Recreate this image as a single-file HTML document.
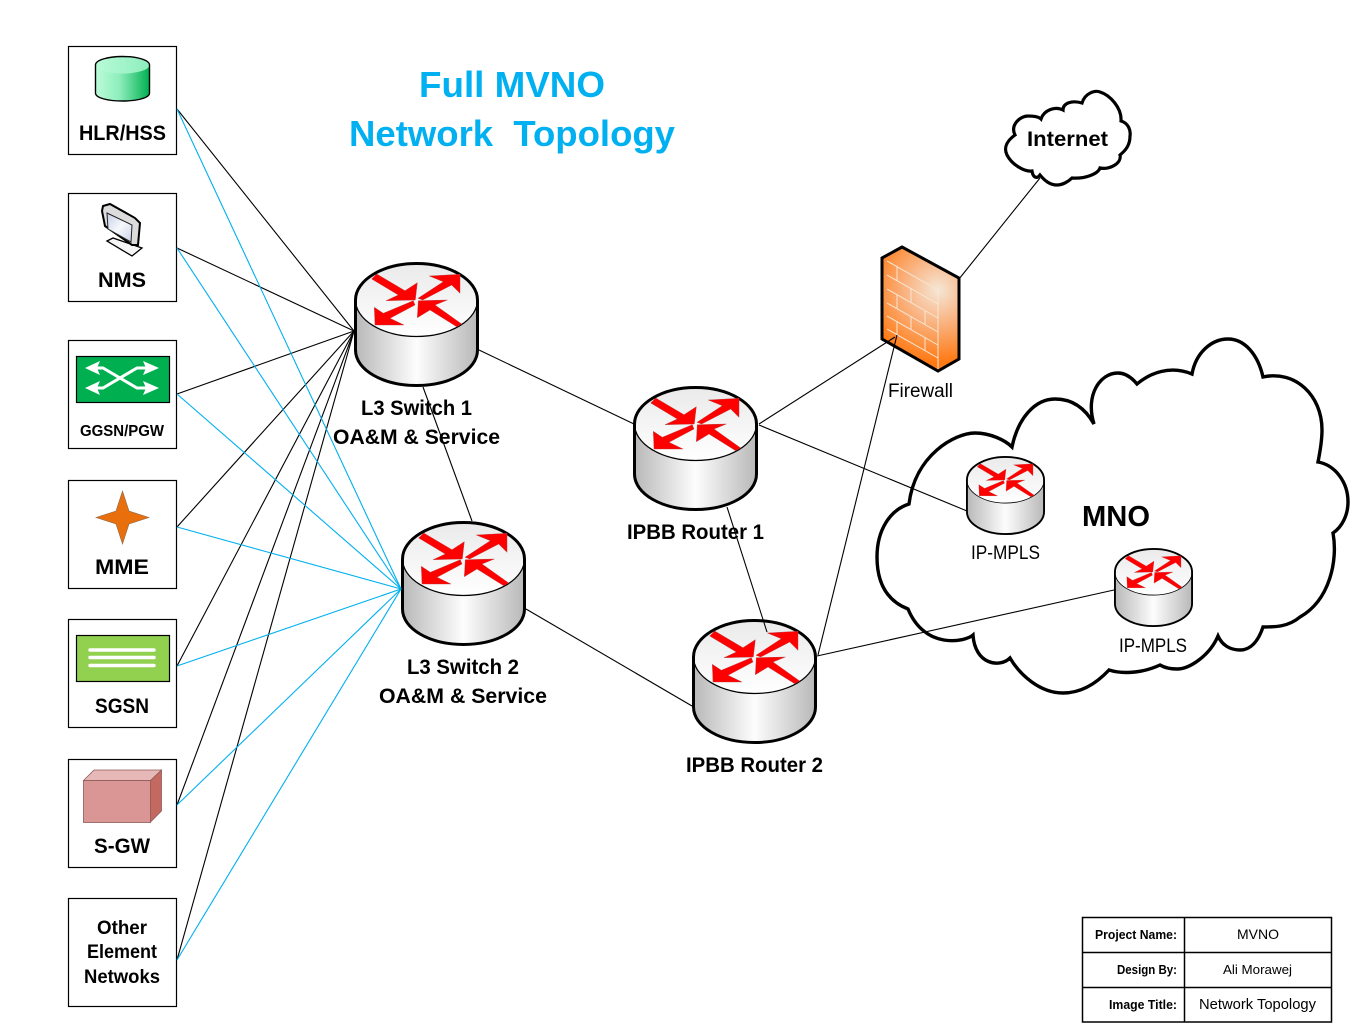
<!DOCTYPE html>
<html>
<head>
<meta charset="utf-8">
<style>
html,body{margin:0;padding:0;background:#fff}
svg{display:block}
text{font-family:"Liberation Sans",sans-serif;fill:#000}
.b{font-weight:700}
.box{fill:#fff;stroke:#000;stroke-width:1.2}
.k{stroke:#000;stroke-width:1.1;fill:none}
.c{stroke:#00b0f0;stroke-width:1.1;fill:none}
</style>
</head>
<body>
<svg width="1357" height="1035" viewBox="0 0 1357 1035" xmlns="http://www.w3.org/2000/svg">
<defs>
<linearGradient id="side" x1="0" x2="1" y1="0" y2="0">
<stop offset="0" stop-color="#b8b8b8"/><stop offset=".5" stop-color="#fdfdfd"/><stop offset="1" stop-color="#b8b8b8"/>
</linearGradient>
<linearGradient id="top" x1="0" x2="0" y1="0" y2="1">
<stop offset="0" stop-color="#eaeaea"/><stop offset="1" stop-color="#ffffff"/>
</linearGradient>
<linearGradient id="hlr" x1="0" x2="1" y1="0" y2="0">
<stop offset="0" stop-color="#bdfcda"/><stop offset=".45" stop-color="#8ceebb"/><stop offset="1" stop-color="#00b050"/>
</linearGradient>
<linearGradient id="hlrT" x1="0" x2="1" y1="0" y2="0">
<stop offset="0" stop-color="#b8fbd8"/><stop offset="1" stop-color="#8eedbc"/>
</linearGradient>
<linearGradient id="scr" x1="0" x2="1" y1="0" y2="1">
<stop offset="0" stop-color="#c4cee4"/><stop offset=".5" stop-color="#f6f8fc"/><stop offset="1" stop-color="#c9d2e6"/>
</linearGradient>
<radialGradient id="fw" gradientUnits="userSpaceOnUse" cx="938" cy="290" r="72">
<stop offset="0" stop-color="#f5e6d5"/><stop offset=".45" stop-color="#f9b483"/><stop offset="1" stop-color="#ff7a14"/>
</radialGradient>
<symbol id="router" viewBox="0 0 125 125">
<path d="M1.500 38 V88 C1.500 108 29 123.500 62.500 123.500 C96 123.500 123.500 108 123.500 88 V38 Z" fill="url(#side)"/>
<ellipse cx="62.500" cy="38" rx="61" ry="36.500" fill="url(#top)" stroke="#000" stroke-width="1.300"/>
<path d="M1.500 38 C1.500 18 29 1.500 62.500 1.500 C96 1.500 123.500 18 123.500 38 V88 C123.500 108 96 123.500 62.500 123.500 C29 123.500 1.500 108 1.500 88 Z" fill="none" stroke="#000" stroke-width="3"/>
<g fill="#f00" stroke="#b04040" stroke-width=".4">
<polygon points="22.700,12 51,28.700 63.300,20.700 61.300,38 32,38.700 44.300,33 17.700,17"/>
<polygon points="64,36.300 89.300,19.700 75.300,14 106,12.300 106,31.300 97.700,23 68.700,38"/>
<polygon points="59.300,38.700 61,43 36,56.300 50,63 21,63 20.300,45.300 29.300,51.300"/>
<polygon points="107.700,62 102.700,64.700 76,48 63.300,55.700 64.300,38.700 93.300,38 81,43"/>
</g>
</symbol>
</defs>

<rect width="1357" height="1035" fill="#fff"/>

<!-- MNO cloud -->
<path fill="#fff" stroke="#000" stroke-width="3.400" stroke-linejoin="miter" d="M909 504 C915 455 955 433 975 433 C990 433 1005 440 1012 447 C1018 418 1035 399 1055 399 C1072 399 1085 408 1094 424 C1085 395 1100 373 1118 373 C1126 373 1132 378 1137 384 C1150 373 1170 365 1192 374 C1196 352 1212 339 1228 339 C1245 339 1258 355 1263 377 C1295 370 1322 395 1322 430 C1322 440 1320 452 1318 462 C1335 465 1348 482 1348 502 C1348 515 1342 527 1333 533 C1338 560 1330 600 1300 617 C1288 627 1275 627 1263 627 C1258 642 1250 650 1240 650 C1230 650 1222 645 1218 636 C1210 655 1190 669 1177 669 C1170 669 1165 668 1160 665 C1145 672 1125 675 1109 670 C1095 685 1080 693 1063 693 C1040 693 1020 675 1010 658 C1000 668 975 665 973 635 C965 642 925 650 908 609 C885 600 877 580 877 557 C877 530 890 510 909 504 Z"/>

<!-- Internet cloud -->
<path fill="#fff" stroke="#000" stroke-width="3.200" d="M1015 135 C1010 125 1020 116 1028 116 C1034 116 1039 117 1041 119 C1044 110 1055 106 1063 110 C1063 103 1072 100 1082 103 C1085 93 1095 90 1100 92 C1110 95 1122 108 1121 121 C1128 123 1131 130 1130 136 C1130 145 1126 150 1120 155 C1122 163 1110 170 1100 168 C1098 174 1085 179 1072 178 C1068 182 1062 185 1057 185 C1050 185 1045 181 1040 175 C1037 179 1033 178 1032 171 C1025 172 1012 165 1007 155 C1003 147 1008 140 1015 135 Z"/>

<!-- Left boxes -->
<rect class="box" x="68.500" y="46.500" width="108" height="108"/>
<rect class="box" x="68.500" y="193.500" width="108" height="108"/>
<rect class="box" x="68.500" y="340.500" width="108" height="108"/>
<rect class="box" x="68.500" y="480.500" width="108" height="108"/>
<rect class="box" x="68.500" y="619.500" width="108" height="108"/>
<rect class="box" x="68.500" y="759.500" width="108" height="108"/>
<rect class="box" x="68.500" y="898.500" width="108" height="108"/>

<!-- HLR icon -->
<path d="M95.500 65 V93 C95.500 98 108 101 122.500 101 C137 101 149.500 98 149.500 93 V65 Z" fill="url(#hlr)"/>
<ellipse cx="122.500" cy="65" rx="27" ry="8.500" fill="url(#hlrT)"/>
<path d="M95.500 65 C95.500 60 108 56.500 122.500 56.500 C137 56.500 149.500 60 149.500 65 V93 C149.500 98 137 101 122.500 101 C108 101 95.500 98 95.500 93 Z" fill="none" stroke="#000" stroke-width="1.400"/>

<!-- NMS icon -->
<polygon points="107,241 113,238 142,248 132,256" fill="#f5f5f5" stroke="#000" stroke-width="1.300"/>
<polygon points="103,206 110,204 135,218 140,223 138,245 132,245 105,226 102,211" fill="#dcdcdc" stroke="#000" stroke-width="2"/>
<polygon points="107,213 132,225 131,242 108,229" fill="url(#scr)" stroke="#222" stroke-width="1"/>

<!-- GGSN icon -->
<rect x="76.500" y="356.500" width="93" height="46" fill="#00b050" stroke="#000" stroke-width="1.200"/>
<g fill="none" stroke="#fff" stroke-width="3">
<path d="M94 368 H103 L137 388 H150"/>
<path d="M94 388 H103 L137 368 H150"/>
</g>
<g fill="#fff">
<polygon points="85,368 100,361 97,368 100,375"/>
<polygon points="85,388 100,381 97,388 100,395"/>
<polygon points="159,368 143,361 146,368 143,375"/>
<polygon points="159,388 143,381 146,388 143,395"/>
</g>

<!-- MME icon -->
<polygon points="122.500,491 129,511 149,517.500 129,524 122.500,544 116,524 96,517.500 116,511" fill="#e96f0c" stroke="#8a6a50" stroke-width=".6"/>

<!-- SGSN icon -->
<rect x="76.500" y="635.500" width="93" height="46" fill="#92d050" stroke="#000" stroke-width="1.200"/>
<g stroke="#fff" stroke-width="3.400" stroke-linecap="round">
<line x1="90" y1="650" x2="154" y2="650"/>
<line x1="90" y1="657.500" x2="154" y2="657.500"/>
<line x1="90" y1="665.500" x2="154" y2="665.500"/>
</g>

<!-- S-GW icon -->
<polygon points="83.500,780.500 94,770 161.500,770 150.500,780.500" fill="#e6b9b8" stroke="#8c5a58" stroke-width=".8"/>
<polygon points="150.500,780.500 161.500,770 161.500,811 150.500,822" fill="#c4695f" stroke="#8c5a58" stroke-width=".8"/>
<rect x="83.500" y="780.500" width="67" height="42" fill="#d99694" stroke="#8c5a58" stroke-width=".8"/>

<!-- Routers -->
<use href="#router" x="354" y="262" width="125" height="125"/>
<use href="#router" x="401" y="521" width="125" height="125"/>
<use href="#router" x="633" y="386" width="125" height="125"/>
<use href="#router" x="692" y="619" width="125" height="125"/>
<use href="#router" x="966" y="456" width="79" height="79"/>
<use href="#router" x="1114" y="548" width="79" height="79"/>

<!-- Firewall -->
<polygon points="882,258 902,247 959,278 959,359 938,371 882,339" fill="url(#fw)"/>
<g stroke="#f8e6d2" stroke-width="1" fill="none">
<path d="M887 261 L938 290 M887 275 L938 304 M887 289 L938 318 M887 303 L938 332 M887 316 L938 345 M887 329 L938 358 M938 290 V371"/>
<path d="M897 267 V281 M897 295 V309 M897 322 V335 M911 289 V303 M911 317 V330 M925 311 V325 M925 338 V351"/>
</g>
<polygon points="882,258 902,247 959,278 959,359 938,371 882,339" fill="none" stroke="#000" stroke-width="3"/>

<!-- Black connectors -->
<g class="k">
<line x1="177" y1="109" x2="354" y2="331"/>
<line x1="177" y1="248" x2="354" y2="331"/>
<line x1="177" y1="394" x2="354" y2="331"/>
<line x1="177" y1="527" x2="354" y2="331"/>
<line x1="177" y1="666" x2="354" y2="331"/>
<line x1="177" y1="805" x2="354" y2="331"/>
<line x1="177" y1="960" x2="354" y2="331"/>
<line x1="423" y1="387" x2="472" y2="521"/>
<line x1="479" y1="350" x2="634" y2="424"/>
<line x1="526" y1="609" x2="692" y2="706"/>
<line x1="727" y1="507" x2="767" y2="632"/>
<line x1="759" y1="424" x2="895" y2="337"/>
<line x1="818" y1="655" x2="897" y2="335"/>
<line x1="959" y1="279" x2="1040" y2="178"/>
<line x1="759" y1="425" x2="967" y2="511"/>
<line x1="817" y1="656" x2="1114" y2="590"/>
</g>
<!-- Blue connectors -->
<g class="c">
<line x1="177" y1="109" x2="401" y2="589"/>
<line x1="177" y1="248" x2="401" y2="589"/>
<line x1="177" y1="394" x2="401" y2="589"/>
<line x1="177" y1="527" x2="401" y2="589"/>
<line x1="177" y1="666" x2="401" y2="589"/>
<line x1="177" y1="805" x2="401" y2="589"/>
<line x1="177" y1="960" x2="401" y2="589"/>
</g>

<!-- Title -->
<g class="b" style="font-size:36px" text-anchor="start">
<text x="419" y="97" textLength="186" lengthAdjust="spacingAndGlyphs" style="fill:#00b0f0" xml:space="preserve">Full MVNO</text>
<text x="349" y="146" textLength="326" lengthAdjust="spacingAndGlyphs" style="fill:#00b0f0;white-space:pre">Network  Topology</text>
</g>

<!-- Labels -->
<g class="b" style="font-size:21px">
<text x="79" y="140" textLength="87" lengthAdjust="spacingAndGlyphs">HLR/HSS</text>
<text x="98" y="287" textLength="48" lengthAdjust="spacingAndGlyphs">NMS</text>
<text x="95" y="574" textLength="54" lengthAdjust="spacingAndGlyphs">MME</text>
<text x="95" y="713" textLength="54" lengthAdjust="spacingAndGlyphs">SGSN</text>
<text x="94" y="853" textLength="56" lengthAdjust="spacingAndGlyphs">S-GW</text>
<text x="361" y="415" textLength="111" lengthAdjust="spacingAndGlyphs">L3 Switch 1</text>
<text x="333" y="444" textLength="167" lengthAdjust="spacingAndGlyphs">OA&amp;M &amp; Service</text>
<text x="407" y="674" textLength="112" lengthAdjust="spacingAndGlyphs">L3 Switch 2</text>
<text x="379" y="703" textLength="168" lengthAdjust="spacingAndGlyphs">OA&amp;M &amp; Service</text>
<text x="627" y="539" textLength="137" lengthAdjust="spacingAndGlyphs">IPBB Router 1</text>
<text x="686" y="772" textLength="137" lengthAdjust="spacingAndGlyphs">IPBB Router 2</text>
<text x="1027" y="146" textLength="81" lengthAdjust="spacingAndGlyphs">Internet</text>
</g>
<g class="b" style="font-size:19px">
<text x="97" y="934" textLength="50" lengthAdjust="spacingAndGlyphs">Other</text>
<text x="87" y="958" textLength="70" lengthAdjust="spacingAndGlyphs">Element</text>
<text x="84" y="983" textLength="76" lengthAdjust="spacingAndGlyphs">Netwoks</text>
</g>
<text class="b" x="80" y="436" style="font-size:16px" textLength="84" lengthAdjust="spacingAndGlyphs">GGSN/PGW</text>
<text class="b" x="1082" y="526" style="font-size:29px" textLength="68" lengthAdjust="spacingAndGlyphs">MNO</text>
<g style="font-size:19px">
<text x="888" y="397" textLength="65" lengthAdjust="spacingAndGlyphs">Firewall</text>
<text x="971" y="559" textLength="69" lengthAdjust="spacingAndGlyphs">IP-MPLS</text>
<text x="1119" y="652" textLength="68" lengthAdjust="spacingAndGlyphs">IP-MPLS</text>
</g>

<!-- Table -->
<g fill="#fff" stroke="#000" stroke-width="1.500">
<rect x="1082.500" y="917.500" width="249" height="104.500"/>
<line x1="1184.500" y1="917" x2="1184.500" y2="1022"/>
<line x1="1082" y1="952.500" x2="1332" y2="952.500"/>
<line x1="1082" y1="987.500" x2="1332" y2="987.500"/>
</g>
<g class="b" style="font-size:13px">
<text x="1095" y="939" textLength="82" lengthAdjust="spacingAndGlyphs">Project Name:</text>
<text x="1117" y="974" textLength="60" lengthAdjust="spacingAndGlyphs">Design By:</text>
<text x="1109" y="1009" textLength="68" lengthAdjust="spacingAndGlyphs">Image Title:</text>
</g>
<text x="1237" y="939" style="font-size:14px" textLength="42" lengthAdjust="spacingAndGlyphs">MVNO</text>
<text x="1223" y="974" style="font-size:13px" textLength="69" lengthAdjust="spacingAndGlyphs">Ali Morawej</text>
<text x="1199" y="1009" style="font-size:15px" textLength="117" lengthAdjust="spacingAndGlyphs">Network Topology</text>
</svg>
</body>
</html>
